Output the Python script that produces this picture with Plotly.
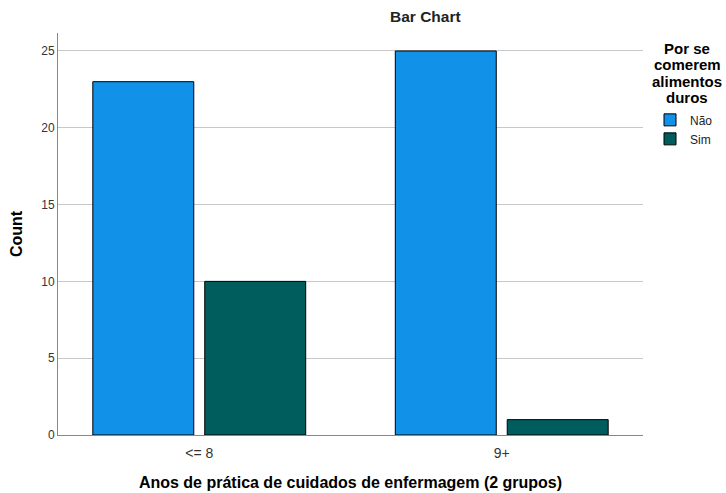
import plotly.graph_objects as go

categories = ["<= 8", "9+"]
nao_values = [23, 25]
sim_values = [10, 1]
series_names = ["Não", "Sim"]
colors = ["#1192e8", "#005d5d"]
y_ticks = [0, 5, 10, 15, 20, 25]
legend_title_lines = ["Por se", "comerem", "alimentos", "duros"]

# plot area in screen pixels (reference): x 58..643, y 33..435
PX0, PX1, PY0, PY1 = 58, 643, 33, 435


def px_x(x):
    return (x - PX0) / (PX1 - PX0)


def px_y(y):
    return (PY1 - y) / (PY1 - PY0)


fig = go.Figure()
for name, vals, col in zip(series_names, [nao_values, sim_values], colors):
    fig.add_trace(go.Bar(
        x=categories, y=vals, name=name,
        marker=dict(color=col, line=dict(color="#000000", width=1)),
    ))

fig.update_layout(
    width=726, height=493,
    margin=dict(l=58, r=83, t=33, b=58, autoexpand=False),
    paper_bgcolor="white", plot_bgcolor="white",
    barmode="group", bargap=0.26, bargroupgap=0.098,
    font=dict(family="Liberation Sans, Arial, sans-serif", color="#000000"),
    showlegend=True,
    legend=dict(x=px_x(650), y=0.82, xanchor="left", yanchor="top",
                font=dict(size=12, color="#222222"),
                itemwidth=30, tracegroupgap=0,
                bgcolor="rgba(0,0,0,0)"),
)
fig.add_annotation(text="<b>Bar Chart</b>", xref="paper", yref="paper",
                   x=px_x(425), y=px_y(17), xanchor="center", yanchor="middle",
                   showarrow=False, font=dict(size=15.5, color="#222222"))
for line, yc in zip(legend_title_lines, [48, 65, 81, 97]):
    fig.add_annotation(text="<b>%s</b>" % line,
                       xref="paper", yref="paper", x=px_x(687), y=px_y(yc),
                       xanchor="center", yanchor="middle", showarrow=False,
                       font=dict(size=15, color="#000000"))

fig.update_xaxes(
    range=[-0.467, 1.467], showgrid=False,
    showline=True, linecolor="#888888", linewidth=1,
    ticks="outside", ticklen=5, tickcolor="rgba(0,0,0,0)",
    tickfont=dict(size=14, color="#333333"),
    title=dict(text="<b>Anos de prática de cuidados de enfermagem (2 grupos)</b>",
               font=dict(size=16, color="#000000"), standoff=17),
)
fig.update_yaxes(
    range=[0, 26.17], tickvals=y_ticks, showgrid=True, gridcolor="#c8c8c8",
    showline=True, linecolor="#888888", linewidth=1, zeroline=False,
    ticks="", tickfont=dict(size=12, color="#333333"),
    title=dict(text="<b>Count</b>", font=dict(size=16, color="#000000"), standoff=14),
)

fig.write_html(
    "out.html",
    config={"displayModeBar": False},
    post_script="document.body.style.margin='0';document.body.style.overflow='hidden';",
)
